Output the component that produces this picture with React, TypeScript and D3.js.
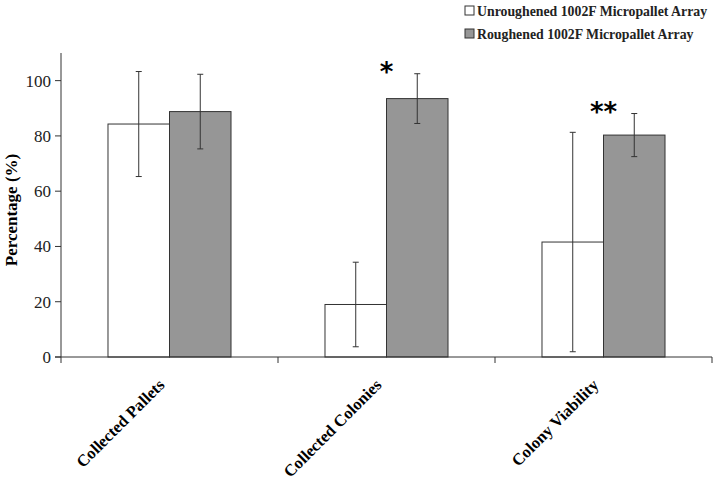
import React from "react";
import * as d3 from "d3";

const categories = ["Collected Pallets", "Collected Colonies", "Colony Viability"];
const seriesNames = ["Unroughened 1002F Micropallet Array", "Roughened 1002F Micropallet Array"];
const unroughened = [84.3, 19, 41.6];
const unroughenedErr = [19, 15.3, 39.7];
const roughened = [88.8, 93.5, 80.3];
const roughenedErr = [13.5, 9, 7.8];
const significance = ["", "*", "**"];
const yTicks = [0, 20, 40, 60, 80, 100];

const W = 717, H = 483;
const left = 61, right = 712, top = 53, bottom = 357;
const colors = ["#ffffff", "#969696"];
const serif = "Liberation Serif, Times New Roman, DejaVu Serif, serif";

export default function App() {
  const x = d3.scaleBand<string>().domain(categories).range([left, right]).paddingInner(0).paddingOuter(0);
  const inner = d3.scaleBand<number>().domain([0, 1]).range([0, x.bandwidth()]).paddingInner(0).paddingOuter(0.764);
  const y = d3.scaleLinear().domain([0, 110]).range([bottom, top]);
  const series = [
    { vals: unroughened, errs: unroughenedErr },
    { vals: roughened, errs: roughenedErr },
  ];
  return (
    <svg width={W} height={H} style={{ position: "absolute", left: 0, top: 0, background: "#fff" }}>
      <rect width={W} height={H} fill="#fff" />
      {series.map((s, si) =>
        categories.map((c, ci) => {
          const bx = (x(c) as number) + (inner(si) as number);
          return (
            <rect key={`b${si}-${ci}`} x={bx} y={y(s.vals[ci])} width={inner.bandwidth()} height={bottom - y(s.vals[ci])}
              fill={colors[si]} stroke="#333" strokeWidth={1} />
          );
        })
      )}
      {series.map((s, si) =>
        categories.map((c, ci) => {
          const cx = (x(c) as number) + (inner(si) as number) + inner.bandwidth() / 2;
          const y1 = y(s.vals[ci] + s.errs[ci]);
          const y0 = y(Math.max(0, s.vals[ci] - s.errs[ci]));
          return (
            <g key={`e${si}-${ci}`} stroke="#333" strokeWidth={1}>
              <line x1={cx} x2={cx} y1={y1} y2={y0} />
              <line x1={cx - 3} x2={cx + 3} y1={y1} y2={y1} />
              <line x1={cx - 3} x2={cx + 3} y1={y0} y2={y0} />
            </g>
          );
        })
      )}
      {categories.map((c, ci) => {
        const errTop = y(roughened[ci] + roughenedErr[ci]);
        const cx = (x(c) as number) + (inner(1) as number);
        return significance[ci] ? (
          <text key={`s${ci}`} x={cx} y={errTop + 7} textAnchor="middle" style={{ fontFamily: "DejaVu Sans, sans-serif" }}
            fontWeight="bold" fontSize={26}>{significance[ci]}</text>
        ) : null;
      })}
      <line x1={left} x2={left} y1={top} y2={bottom} stroke="#333" />
      {yTicks.map((t) => (
        <g key={`yt${t}`}>
          <line x1={left - 6} x2={left} y1={y(t)} y2={y(t)} stroke="#333" />
          <text x={left - 10} y={y(t)} dy="0.35em" textAnchor="end" style={{ fontFamily: serif }} fontSize={17} fill="#222">{t}</text>
        </g>
      ))}
      <text transform={`translate(17,210) rotate(-90)`} textAnchor="middle" style={{ fontFamily: serif }}
        fontWeight="bold" fontSize={17}>Percentage (%)</text>
      <line x1={left - 6} x2={right} y1={bottom} y2={bottom} stroke="#333" />
      {[...categories.map((c) => x(c) as number), right].map((px, i) => (
        <line key={`xt${i}`} x1={px} x2={px} y1={bottom} y2={bottom + 6} stroke="#333" />
      ))}
      {categories.map((c) => (
        <text key={`xl${c}`} transform={`translate(${(x(c) as number) + x.bandwidth() / 2 - 4},${bottom + 29}) rotate(-45)`}
          textAnchor="end" style={{ fontFamily: serif }} fontWeight="bold" fontSize={16.5}>{c}</text>
      ))}
      {seriesNames.map((n, i) => (
        <g key={`lg${i}`} transform={`translate(465,${11 + i * 23})`}>
          <rect x={0} y={-5} width={9} height={9} fill={colors[i]} stroke="#333" />
          <text x={12} y={0} dy="0.35em" style={{ fontFamily: serif }} fontWeight="bold" fontSize={13.8} fill="#222">{n}</text>
        </g>
      ))}
    </svg>
  );
}
